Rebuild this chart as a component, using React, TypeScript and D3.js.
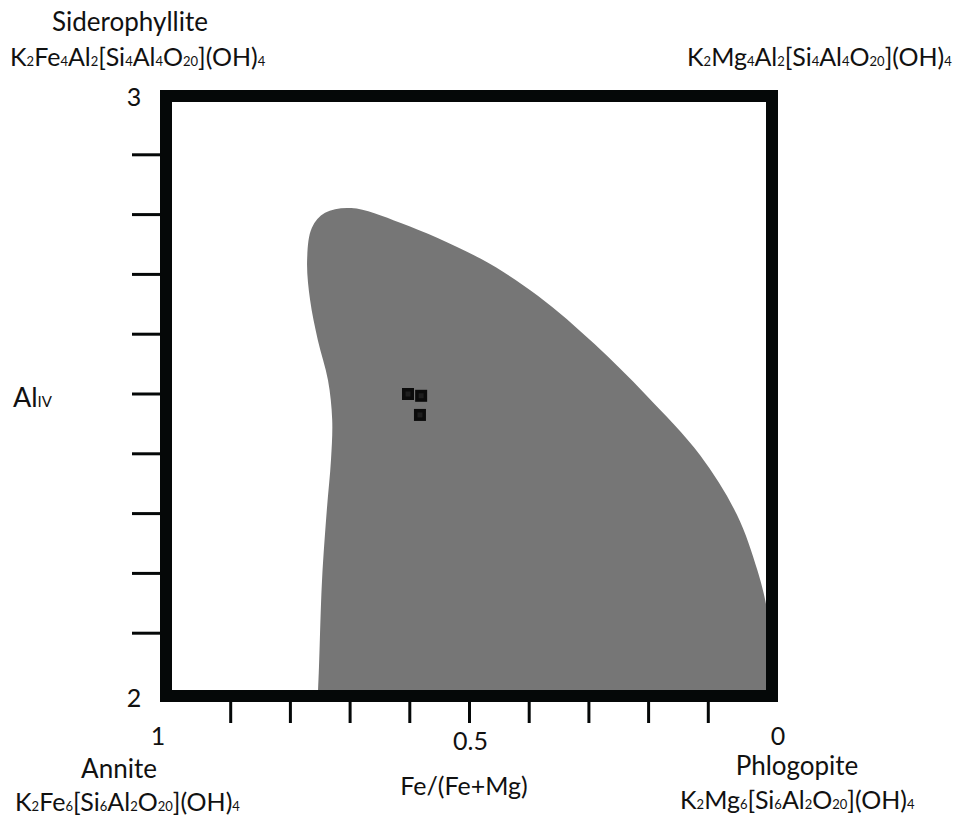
import React from "react";
import * as d3 from "d3";

// Axis ticks
const xTickValues = [0.9, 0.8, 0.7, 0.6, 0.5, 0.4, 0.3, 0.2, 0.1];
const yTickValues = [2.1, 2.2, 2.3, 2.4, 2.5, 2.6, 2.7, 2.8, 2.9];
const xTickLabels = [
  { v: 1, t: "1" },
  { v: 0.5, t: "0.5" },
  { v: 0, t: "0" },
];
const yTickLabels = [
  { v: 3, t: "3" },
  { v: 2, t: "2" },
];

// Field boundary (Fe/(Fe+Mg), AlIV), traced from the right border around to bottom-left
const fieldX = [-0.01, 0, 0.003, 0.018, 0.052, 0.114, 0.204, 0.291, 0.385, 0.481, 0.615, 0.698, 0.742, 0.764, 0.772, 0.767, 0.754, 0.737, 0.73, 0.732, 0.739, 0.747, 0.754, 0.757];
const fieldY = [2.08, 2.122, 2.147, 2.206, 2.298, 2.398, 2.498, 2.584, 2.664, 2.726, 2.786, 2.811, 2.803, 2.778, 2.724, 2.657, 2.59, 2.523, 2.457, 2.39, 2.306, 2.189, 2.0, 1.97];

// Sample points
const sampleX = [0.603, 0.581, 0.583];
const sampleY = [2.5, 2.497, 2.465];

const W = 962;
const H = 818;

const FONT = "Lato, 'Open Sans', sans-serif";

function Formula({ parts, x, y, anchor = "start", size = 25 }: { parts: [string, boolean][]; x: number; y: number; anchor?: string; size?: number }) {
  const sub = Math.round(size * 0.5);
  return (
    <text x={x} y={y} textAnchor={anchor as any} fontFamily={FONT} fontSize={size} fill="#111">
      {parts.map(([t, isSub], i) =>
        isSub ? (
          <tspan key={i} fontSize={sub}>{t}</tspan>
        ) : (
          <tspan key={i}>{t}</tspan>
        )
      )}
    </text>
  );
}

export default function App() {
  const x = d3.scaleLinear().domain([1, 0]).range([171, 768]);
  const y = d3.scaleLinear().domain([2, 3]).range([693, 95]);

  const pts: [number, number][] = fieldX.map((v, i) => [x(v), y(fieldY[i])]);
  const curve = d3.line().curve(d3.curveCatmullRom.alpha(0.5))(pts) as string;
  const fieldPath = `${curve} L${x(0) + 20},${y(2) + 20} L${x(0) + 20},${y(fieldY[0])} Z`;

  const frame = { x0: 166, y0: 96, x1: 772, y1: 696 };

  return (
    <svg width={W} height={H} style={{ position: "absolute", left: 0, top: 0, background: "#fff" }}>
      <defs>
        <clipPath id="inner">
          <rect x={172} y={102} width={594} height={588} />
        </clipPath>
      </defs>
      <g clipPath="url(#inner)">
        <path d={fieldPath} fill="#767676" />
      </g>

      {sampleX.map((v, i) => (
        <g key={i}>
          <rect x={x(v) - 6} y={y(sampleY[i]) - 6} width={12} height={12} fill="#0b0b0b" />
          <rect x={x(v) - 2.5} y={y(sampleY[i]) - 2.5} width={5} height={5} fill="#1e1e1e" />
        </g>
      ))}

      <rect
        x={frame.x0}
        y={frame.y0}
        width={frame.x1 - frame.x0}
        height={frame.y1 - frame.y0}
        fill="none"
        stroke="#050808"
        strokeWidth={12}
      />

      {xTickValues.map((v) => (
        <line key={v} x1={x(v)} x2={x(v)} y1={702} y2={723} stroke="#050808" strokeWidth={3} />
      ))}
      {yTickValues.map((v) => (
        <line key={v} x1={132} x2={161} y1={y(v)} y2={y(v)} stroke="#050808" strokeWidth={3} />
      ))}

      {xTickLabels.map((d) => (
        <text key={d.t} x={d.v === 1 ? 158 : d.v === 0 ? 778 : x(d.v) + 1} y={d.v === 0.5 ? 750 : 745} textAnchor="middle" fontFamily={FONT} fontSize={25} fill="#111">
          {d.t}
        </text>
      ))}
      {yTickLabels.map((d) => (
        <text key={d.t} x={134} y={d.v === 3 ? 106 : 707} textAnchor="middle" fontFamily={FONT} fontSize={25} fill="#111">
          {d.t}
        </text>
      ))}

      {/* Axis titles */}
      <text x={13} y={407} fontFamily={FONT} fontSize={27} fill="#111">
        Al<tspan fontSize={15}>IV</tspan>
      </text>
      <text x={464} y={795} textAnchor="middle" fontFamily={FONT} fontSize={25} fill="#111">
        Fe/(Fe+Mg)
      </text>

      {/* End-member labels */}
      <text x={130} y={31} textAnchor="middle" fontFamily={FONT} fontSize={26} fill="#111">Siderophyllite</text>
      <Formula x={10} y={66} parts={[["K", false], ["2", true], ["Fe", false], ["4", true], ["Al", false], ["2", true], ["[Si", false], ["4", true], ["Al", false], ["4", true], ["O", false], ["20", true], ["](OH)", false], ["4", true]]} />
      <Formula x={687} y={66} parts={[["K", false], ["2", true], ["Mg", false], ["4", true], ["Al", false], ["2", true], ["[Si", false], ["4", true], ["Al", false], ["4", true], ["O", false], ["20", true], ["](OH)", false], ["4", true]]} />

      <text x={119} y={778} textAnchor="middle" fontFamily={FONT} fontSize={26} fill="#111">Annite</text>
      <Formula x={15} y={811} parts={[["K", false], ["2", true], ["Fe", false], ["6", true], ["[Si", false], ["6", true], ["Al", false], ["2", true], ["O", false], ["20", true], ["](OH)", false], ["4", true]]} />

      <text x={797} y={775} textAnchor="middle" fontFamily={FONT} fontSize={26} fill="#111">Phlogopite</text>
      <Formula x={680} y={809} parts={[["K", false], ["2", true], ["Mg", false], ["6", true], ["[Si", false], ["6", true], ["Al", false], ["2", true], ["O", false], ["20", true], ["](OH)", false], ["4", true]]} />
    </svg>
  );
}
